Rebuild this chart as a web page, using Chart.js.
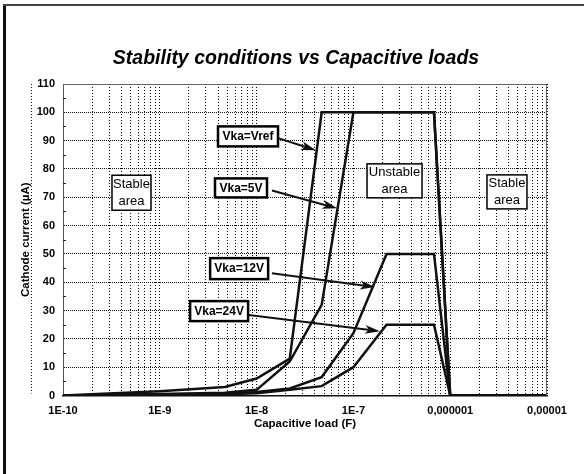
<!DOCTYPE html>
<html>
<head>
<meta charset="utf-8">
<script src="https://cdn.jsdelivr.net/npm/chart.js@4.4.1/dist/chart.umd.min.js"></script>
<style>
html, body { margin: 0; padding: 0; background: #fff; }
canvas { display: block; }
</style>
</head>
<body>
<canvas id="stabChart" width="584" height="474"></canvas>
<script>
// capacitive load (F) where the curves were read
var capLoads = [1e-10, 1e-9, 4.7e-9, 1e-8, 2.2e-8, 4.7e-8, 1e-7, 2.2e-7, 6.8e-7, 1e-6, 1e-5];
// cathode current (uA) limit for each Vka
var vkaVref = [0, 1.5, 3, 6, 13, 100, 100, 100, 100, 0, 0];
var vka5V   = [0, 0.5, 1, 2, 12, 32, 100, 100, 100, 0, 0];
var vka12V  = [0, 0.3, 0.6, 1.2, 2.5, 6.5, 22, 50, 50, 0, 0];
var vka24V  = [0, 0.2, 0.4, 0.8, 2, 3.3, 10, 25, 25, 0, 0];

var seriesNames = ['Vka=Vref', 'Vka=5V', 'Vka=12V', 'Vka=24V'];
var xTickExps = [-10, -9, -8, -7, -6, -5];
var xTickLabels = ['1E-10', '1E-9', '1E-8', '1E-7', '0,000001', '0,00001'];
var yTickValues = [0, 10, 20, 30, 40, 50, 60, 70, 80, 90, 100, 110];

var FONT = 'Liberation Sans, Arial, sans-serif';

// grid at 1..9 of every decade
var xGridValues = [];
for (var e = -10; e < -5; e++) {
  for (var k = 1; k <= 9; k++) {
    xGridValues.push(Number((k * Math.pow(10, e)).toPrecision(3)));
  }
}
xGridValues.push(1e-5);

function toPoints(ys) {
  return capLoads.map(function (c, i) { return { x: c, y: ys[i] }; });
}

// callout boxes, placed in data units
var callouts = [
  { text: seriesNames[0], x: 8.15e-9, y: 91.5, w: 60, h: 20, fx: 1.7e-8,  fy: 90.8, tx: 4.1e-8,  ty: 86.6 },
  { text: seriesNames[1], x: 6.9e-9,  y: 73.3, w: 52, h: 19, fx: 1.44e-8, fy: 72.4, tx: 6.8e-8,  ty: 66.1 },
  { text: seriesNames[2], x: 6.6e-9,  y: 44.8, w: 58, h: 21, fx: 1.44e-8, fy: 43.2, tx: 1.67e-7, ty: 38.3 },
  { text: seriesNames[3], x: 4.1e-9,  y: 29.8, w: 58, h: 20, fx: 8.3e-9,  fy: 28.4, tx: 1.88e-7, ty: 22.7 }
];
var areaNotes = [
  { lines: ['Stable', 'area'],   x: 5.1e-10, y: 71.6, w: 39, h: 35 },
  { lines: ['Unstable', 'area'], x: 2.66e-7, y: 75.8, w: 55, h: 34 },
  { lines: ['Stable', 'area'],   x: 3.86e-6, y: 71.9, w: 40, h: 34 }
];

var overlay = {
  id: 'overlay',
  beforeDraw: function (chart) {
    var ctx = chart.ctx;
    ctx.save();
    ctx.fillStyle = '#fff';
    ctx.fillRect(0, 0, chart.width, chart.height);
    ctx.restore();
  },
  afterDraw: function (chart) {
    var ctx = chart.ctx, xs = chart.scales.x, ys = chart.scales.y, a = chart.chartArea;
    ctx.save();

    // top/right edge of plot
    ctx.strokeStyle = '#666';
    ctx.lineWidth = 1;
    ctx.setLineDash([]);
    ctx.beginPath();
    ctx.moveTo(a.left, a.top + 0.5);
    ctx.lineTo(a.right - 0.5, a.top + 0.5);
    ctx.lineTo(a.right - 0.5, a.bottom);
    ctx.stroke();

    // minor ticks on the y axis
    ctx.strokeStyle = '#222';
    for (var v = 5; v < 110; v += 10) {
      var py = Math.round(ys.getPixelForValue(v)) + 0.5;
      ctx.beginPath();
      ctx.moveTo(a.left, py);
      ctx.lineTo(a.left + 3, py);
      ctx.stroke();
    }

    // dotted rule next to y title
    ctx.setLineDash([1, 2]);
    ctx.strokeStyle = '#111';
    ctx.beginPath();
    ctx.moveTo(31.5, a.top);
    ctx.lineTo(31.5, a.bottom - 2);
    ctx.stroke();
    ctx.setLineDash([]);

    // area notes
    ctx.textAlign = 'center';
    ctx.textBaseline = 'middle';
    areaNotes.forEach(function (n) {
      var cx = xs.getPixelForValue(n.x), cy = ys.getPixelForValue(n.y);
      ctx.fillStyle = '#fff';
      ctx.fillRect(cx - n.w / 2, cy - n.h / 2, n.w, n.h);
      ctx.strokeStyle = '#000';
      ctx.lineWidth = 1.5;
      ctx.strokeRect(cx - n.w / 2, cy - n.h / 2, n.w, n.h);
      ctx.fillStyle = '#000';
      ctx.font = '13px ' + FONT;
      ctx.fillText(n.lines[0], cx, cy - 8);
      ctx.fillText(n.lines[1], cx, cy + 9);
    });

    // callouts with arrows
    callouts.forEach(function (c) {
      var x1 = xs.getPixelForValue(c.fx), y1 = ys.getPixelForValue(c.fy);
      var x2 = xs.getPixelForValue(c.tx), y2 = ys.getPixelForValue(c.ty);
      var ang = Math.atan2(y2 - y1, x2 - x1);
      var cs = Math.cos(ang), sn = Math.sin(ang);
      ctx.strokeStyle = '#111';
      ctx.fillStyle = '#111';
      ctx.lineWidth = 2;
      ctx.beginPath();
      ctx.moveTo(x1, y1);
      ctx.lineTo(x2 - 10 * cs, y2 - 10 * sn);
      ctx.stroke();
      ctx.beginPath();
      ctx.moveTo(x2, y2);
      ctx.lineTo(x2 - 15 * cs - 4.5 * sn, y2 - 15 * sn + 4.5 * cs);
      ctx.lineTo(x2 - 11 * cs, y2 - 11 * sn);
      ctx.lineTo(x2 - 15 * cs + 4.5 * sn, y2 - 15 * sn - 4.5 * cs);
      ctx.closePath();
      ctx.fill();

      var bx = xs.getPixelForValue(c.x), by = ys.getPixelForValue(c.y);
      ctx.fillStyle = '#fff';
      ctx.fillRect(bx - c.w / 2, by - c.h / 2, c.w, c.h);
      ctx.strokeStyle = '#000';
      ctx.lineWidth = 2.5;
      ctx.strokeRect(bx - c.w / 2, by - c.h / 2, c.w, c.h);
      ctx.fillStyle = '#000';
      ctx.font = 'bold 12px ' + FONT;
      ctx.fillText(c.text, bx, by + 0.5);
    });

    // title and axis titles
    ctx.fillStyle = '#000';
    ctx.font = 'italic bold 19.5px ' + FONT;
    ctx.fillText('Stability conditions vs Capacitive loads', 296, 59);
    ctx.font = 'bold 11.5px ' + FONT;
    ctx.fillText('Capacitive load (F)', (a.left + a.right) / 2, 424);
    ctx.save();
    ctx.translate(26, (a.top + a.bottom) / 2);
    ctx.rotate(-Math.PI / 2);
    ctx.fillText('Cathode current (\u00b5A)', 0, 0);
    ctx.restore();

    // outer frame (left and top only visible)
    ctx.strokeStyle = '#111';
    ctx.lineWidth = 3;
    ctx.beginPath();
    ctx.moveTo(4.5, chart.height);
    ctx.lineTo(4.5, 5);
    ctx.stroke();
    ctx.strokeStyle = '#444';
    ctx.lineWidth = 2;
    ctx.beginPath();
    ctx.moveTo(3, 5);
    ctx.lineTo(chart.width, 5);
    ctx.stroke();

    ctx.restore();
  }
};

var ctx = document.getElementById('stabChart').getContext('2d');
var stabChart = new Chart(ctx, {
  type: 'line',
  data: {
    datasets: [
      { label: seriesNames[0], data: toPoints(vkaVref) },
      { label: seriesNames[1], data: toPoints(vka5V) },
      { label: seriesNames[2], data: toPoints(vka12V) },
      { label: seriesNames[3], data: toPoints(vka24V) }
    ]
  },
  options: {
    responsive: false,
    animation: false,
    devicePixelRatio: 1,
    layout: { padding: { left: 23, right: 37, top: 84, bottom: 48.5 } },
    plugins: {
      legend: { display: false },
      tooltip: { enabled: false },
      title: { display: false }
    },
    elements: {
      point: { radius: 0 },
      line: { tension: 0, borderWidth: 2.5, borderColor: '#111', fill: false }
    },
    scales: {
      x: {
        type: 'logarithmic',
        min: 1e-10,
        max: 1e-5,
        afterBuildTicks: function (scale) {
          scale.ticks = xGridValues.map(function (v) { return { value: v }; });
        },
        afterFit: function (scale) { scale.height = 30; },
        grid: { color: '#000', lineWidth: 1, drawTicks: false },
        border: { display: true, color: '#111', width: 1.5, dash: [1, 2] },
        ticks: {
          autoSkip: false,
          maxRotation: 0,
          minRotation: 0,
          padding: 9,
          color: '#000',
          font: { family: FONT, size: 11, weight: 'bold' },
          callback: function (value) {
            var lg = Math.log10(value);
            if (Math.abs(lg - Math.round(lg)) > 1e-6) return '';
            var idx = xTickExps.indexOf(Math.round(lg));
            return idx >= 0 ? xTickLabels[idx] : '';
          }
        }
      },
      y: {
        min: 0,
        max: 110,
        afterBuildTicks: function (scale) {
          scale.ticks = yTickValues.map(function (v) { return { value: v }; });
        },
        afterFit: function (scale) { scale.width = 40; },
        grid: { color: '#111', lineWidth: 1, drawTicks: false },
        border: { display: true, color: '#555', width: 1, dash: [1, 1] },
        ticks: {
          padding: 8,
          color: '#000',
          font: { family: FONT, size: 11, weight: 'bold' }
        }
      }
    }
  },
  plugins: [overlay]
});
</script>
</body>
</html>
